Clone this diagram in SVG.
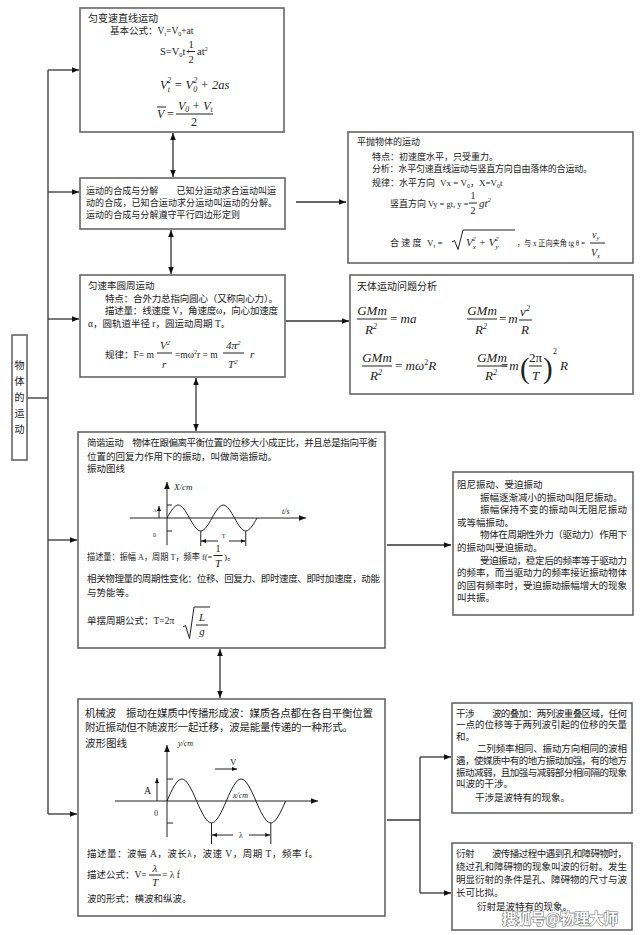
<svg xmlns="http://www.w3.org/2000/svg" width="640" height="935" viewBox="0 0 640 935">
<defs>
<marker id="ah" viewBox="0 0 10 8" refX="10" refY="4" markerWidth="7" markerHeight="5.6" orient="auto-start-reverse" markerUnits="userSpaceOnUse"><path d="M0,0 L10,4 L0,8 z" fill="#111"/></marker>
<marker id="sa" viewBox="0 0 10 8" refX="10" refY="4" markerWidth="5" markerHeight="4" orient="auto-start-reverse" markerUnits="userSpaceOnUse"><path d="M0,0 L10,4 L0,8 z" fill="#111"/></marker>
<style>
.d{font-family:"Liberation Serif","Noto Sans CJK SC",serif;font-size:9.5px;fill:#222}
.bx{fill:#fff;stroke:#666;stroke-width:1.6}
.ln{stroke:#333;stroke-width:1.3;fill:none}
.g{stroke:#222;stroke-width:1;fill:none}
.m{font-style:italic}
.lg{font-size:10.5px}
.f{font-size:13px;font-style:italic}
.fn{font-size:13px}
</style>
</defs>
<rect width="640" height="935" fill="#fff"/>
<g class="d">

<g id="connectors">
<line class="ln" x1="27" y1="398" x2="48" y2="398"/>
<line class="ln" x1="48" y1="70" x2="48" y2="814"/>
<line class="ln" x1="48" y1="70" x2="79" y2="70" marker-end="url(#ah)"/>
<line class="ln" x1="48" y1="192" x2="79" y2="192" marker-end="url(#ah)"/>
<line class="ln" x1="48" y1="319" x2="79" y2="319" marker-end="url(#ah)"/>
<line class="ln" x1="48" y1="540" x2="77" y2="540" marker-end="url(#ah)"/>
<line class="ln" x1="48" y1="814" x2="77" y2="814" marker-end="url(#ah)"/>
<line class="ln" x1="173" y1="133" x2="173" y2="177" marker-start="url(#ah)" marker-end="url(#ah)"/>
<line class="ln" x1="171" y1="230" x2="171" y2="274" marker-start="url(#ah)" marker-end="url(#ah)"/>
<line class="ln" x1="196" y1="378" x2="196" y2="431" marker-start="url(#ah)" marker-end="url(#ah)"/>
<line class="ln" x1="220" y1="649" x2="220" y2="698" marker-start="url(#ah)" marker-end="url(#ah)"/>
<line class="ln" x1="296" y1="202" x2="346" y2="202" marker-end="url(#ah)"/>
<line class="ln" x1="286" y1="321" x2="349" y2="321" marker-end="url(#ah)"/>
<line class="ln" x1="387" y1="545" x2="451" y2="545" marker-end="url(#ah)"/>
<line class="ln" x1="387" y1="820" x2="420" y2="820"/>
<line class="ln" x1="420" y1="757" x2="420" y2="893"/>
<line class="ln" x1="420" y1="757" x2="451" y2="757" marker-end="url(#ah)"/>
<line class="ln" x1="420" y1="893" x2="451" y2="893" marker-end="url(#ah)"/>
</g>

<g id="root">
<rect class="bx" x="12" y="335" width="15" height="125"/>
<text x="19.5" y="369" text-anchor="middle" font-size="10">物</text>
<text x="19.5" y="385" text-anchor="middle" font-size="10">体</text>
<text x="19.5" y="401" text-anchor="middle" font-size="10">的</text>
<text x="19.5" y="417" text-anchor="middle" font-size="10">运</text>
<text x="19.5" y="433" text-anchor="middle" font-size="10">动</text>
</g>

<g id="uniform-accel">
<rect class="bx" x="80" y="8" width="204" height="124"/>
<text x="88" y="22" font-size="10">匀变速直线运动</text>
<text x="110" y="34">基本公式：V<tspan font-size="6" dy="2">t</tspan><tspan dy="-2">=V</tspan><tspan font-size="6" dy="2">0</tspan><tspan dy="-2">+at</tspan></text>
<text x="160" y="55" font-size="10.5">S=V<tspan font-size="6.5" dy="2">0</tspan><tspan dy="-2">t+</tspan></text>
<text x="191" y="48" font-size="10.5" text-anchor="middle">1</text>
<line class="g" x1="187" y1="51.5" x2="195" y2="51.5"/>
<text x="191" y="63" font-size="10.5" text-anchor="middle">2</text>
<text x="197" y="55" font-size="10.5">at<tspan font-size="6.5" dy="-4">2</tspan></text>
<text x="160" y="89" class="m" font-size="12.5">V<tspan font-size="8" dy="3">t</tspan><tspan font-size="8" dx="-3" dy="-9">2</tspan><tspan dy="6"> = V</tspan><tspan font-size="8" dy="3">0</tspan><tspan font-size="8" dx="-4" dy="-9">2</tspan><tspan dy="6"> + 2as</tspan></text>
<text x="157" y="118" class="m" font-size="12">V</text>
<line class="g" x1="157" y1="107" x2="166" y2="107"/>
<text x="167" y="118" font-size="12"> =</text>
<text x="178" y="110" class="m" font-size="12">V<tspan font-size="7.5" dy="2">0</tspan><tspan dy="-2"> + V</tspan><tspan font-size="7.5" dy="2">t</tspan></text>
<line class="g" x1="176" y1="114" x2="213" y2="114"/>
<text x="194" y="126" font-size="12" text-anchor="middle">2</text>
</g>

<g id="composition">
<rect class="bx" x="80" y="178" width="205" height="51"/>
<text x="86" y="194" font-size="9" textLength="190" lengthAdjust="spacing">运动的合成与分解　　已知分运动求合运动叫运</text>
<text x="86" y="206" font-size="9" textLength="191" lengthAdjust="spacing">动的合成，已知合运动求分运动叫运动的分解。</text>
<text x="86" y="218" font-size="9" textLength="154" lengthAdjust="spacing">运动的合成与分解遵守平行四边形定则</text>
</g>

<g id="circular">
<rect class="bx" x="80" y="275" width="205" height="102"/>
<text x="88" y="289">匀速率圆周运动</text>
<text x="105" y="302" textLength="173" lengthAdjust="spacing">特点：合外力总指向圆心（又称向心力）。</text>
<text x="105" y="314" textLength="173" lengthAdjust="spacing">描述量：线速度 V，角速度ω，向心加速度</text>
<text x="88" y="327">α，圆轨道半径 r，圆运动周期 T。</text>
<text x="105" y="358">规律：F= m</text>
<text x="160" y="349" class="m" font-size="11">V<tspan font-size="7" dy="-4">2</tspan></text>
<line class="g" x1="157" y1="353" x2="172" y2="353"/>
<text x="162" y="368" class="m" font-size="11">r</text>
<text x="175" y="358">=mω<tspan font-size="6" dy="-4">2</tspan><tspan dy="4">r = m</tspan></text>
<text x="226" y="349" class="m" font-size="11">4π<tspan font-size="7" dy="-4">2</tspan></text>
<line class="g" x1="223" y1="353" x2="244" y2="353"/>
<text x="228" y="368" class="m" font-size="11">T<tspan font-size="7" dy="-4">2</tspan></text>
<text x="250" y="358" class="m" font-size="11">r</text>
</g>

<g id="projectile">
<rect class="bx" x="348" y="132" width="285" height="131"/>
<text x="357" y="145" font-size="9">平抛物体的运动</text>
<text x="372" y="160" font-size="9">特点：初速度水平，只受重力。</text>
<text x="372" y="172" font-size="9" textLength="220" lengthAdjust="spacing">分析：水平匀速直线运动与竖直方向自由落体的合运动。</text>
<text x="372" y="186" font-size="9">规律：水平方向<tspan x="440">Vx = V</tspan><tspan font-size="6" dy="2">0</tspan><tspan dy="-2">，X=V</tspan><tspan font-size="6" dy="2">0</tspan><tspan dy="-2">t</tspan></text>
<text x="390" y="207" font-size="9">竖直方向</text>
<text x="428" y="207" font-size="8.5">Vy = gt, y =</text>
<text x="473" y="199" font-size="10" text-anchor="middle">1</text>
<line class="g" x1="469" y1="203" x2="477" y2="203"/>
<text x="473" y="214" font-size="10" text-anchor="middle">2</text>
<text x="479" y="207" class="m" font-size="11">gt<tspan font-size="7" dy="-5">2</tspan></text>
<text x="390" y="246" font-size="9">合 速 度<tspan x="427">V</tspan><tspan font-size="6" dy="2">t</tspan><tspan dy="-2"> =</tspan></text>
<path class="g" d="M452,242 l2.5,-1.5 l3.5,9 l5,-19.5 h52"/>
<text x="466" y="246" class="m" font-size="11">V<tspan font-size="7" dy="3">x</tspan><tspan font-size="7" dx="-3.5" dy="-8">2</tspan><tspan dy="5"> + V</tspan><tspan font-size="7" dy="3">y</tspan><tspan font-size="7" dx="-3.5" dy="-8">2</tspan></text>
<text x="517" y="246" font-size="8.5" textLength="68" lengthAdjust="spacingAndGlyphs">，与 x 正向夹角 tg θ =</text>
<text x="592" y="238" class="m" font-size="10">v<tspan font-size="6.5" dy="2">y</tspan></text>
<line class="g" x1="590" y1="243" x2="605" y2="243"/>
<text x="591" y="256" class="m" font-size="10">V<tspan font-size="6.5" dy="2">x</tspan></text>
</g>

<g id="celestial">
<rect class="bx" x="350" y="275" width="283" height="119"/>
<text x="357" y="290" font-size="10">天体运动问题分析</text>
<text x="372" y="315" class="f" text-anchor="middle">GMm</text>
<line class="g" x1="357" y1="319" x2="387" y2="319"/>
<text x="371" y="334" class="f" text-anchor="middle">R<tspan font-size="8" dy="-5">2</tspan></text>
<text x="390" y="323" class="fn">= <tspan font-style="italic">ma</tspan></text>
<text x="482" y="315" class="f" text-anchor="middle">GMm</text>
<line class="g" x1="467" y1="319" x2="497" y2="319"/>
<text x="481" y="334" class="f" text-anchor="middle">R<tspan font-size="8" dy="-5">2</tspan></text>
<text x="499" y="323" class="fn">=<tspan dx="2" font-style="italic">m</tspan></text>
<text x="525" y="316" class="f" text-anchor="middle">v<tspan font-size="8" dy="-5">2</tspan></text>
<line class="g" x1="519" y1="320" x2="532" y2="320"/>
<text x="525" y="334" class="f" text-anchor="middle">R</text>
<text x="377" y="362" class="f" text-anchor="middle">GMm</text>
<line class="g" x1="362" y1="366" x2="392" y2="366"/>
<text x="376" y="380" class="f" text-anchor="middle">R<tspan font-size="8" dy="-5">2</tspan></text>
<text x="395" y="370" class="fn">= <tspan font-style="italic">mω</tspan><tspan font-size="8" dy="-5">2</tspan><tspan dy="5" font-style="italic">R</tspan></text>
<text x="492" y="362" class="f" text-anchor="middle">GMm</text>
<line class="g" x1="477" y1="366" x2="507" y2="366"/>
<text x="491" y="380" class="f" text-anchor="middle">R<tspan font-size="8" dy="-5">2</tspan></text>
<text x="501" y="370" class="fn">=<tspan dx="1" font-style="italic">m</tspan></text>
<text x="520" y="378" font-size="29">(</text>
<text x="535.5" y="362" class="fn" text-anchor="middle">2π</text>
<line class="g" x1="529" y1="366" x2="542" y2="366"/>
<text x="535.5" y="380" class="f" text-anchor="middle">T</text>
<text x="543" y="378" font-size="29">)</text>
<text x="553" y="354" font-size="8">2</text>
<text x="560" y="370" class="f">R</text>
</g>

<g id="shm">
<rect class="bx" x="78" y="432" width="307" height="216"/>
<text x="87" y="446" textLength="290" lengthAdjust="spacing">简谐运动　物体在跟偏离平衡位置的位移大小成正比，并且总是指向平衡</text>
<text x="87" y="460">位置的回复力作用下的振动，叫做简谐振动。</text>
<text x="87" y="472">振动图线</text>
<line class="g" x1="167" y1="545" x2="167" y2="482" marker-end="url(#ah)"/>
<line class="g" x1="130" y1="518" x2="306" y2="518" marker-end="url(#ah)"/>
<text x="174" y="490" class="m" font-size="9">X/cm</text>
<text x="282" y="514" class="m" font-size="8">t/s</text>
<line class="g" x1="167" y1="505" x2="172" y2="505"/>
<line class="g" x1="167" y1="531" x2="172" y2="531"/>
<line class="g" x1="159" y1="518" x2="159" y2="506" marker-end="url(#sa)" stroke-width="0.8"/>
<text x="153" y="512" font-size="5">A</text>
<text x="153" y="537" font-size="6">0</text>
<path class="g" d="M167,518 c3.666,-6.653 7.451,-13 11.25,-13 c3.799,0 7.584,6.347 11.25,13 c3.666,6.653 7.451,13 11.25,13 c3.799,0 7.584,-6.347 11.25,-13 c3.666,-6.653 7.451,-13 11.25,-13 c3.799,0 7.584,6.347 11.25,13 c3.666,6.653 7.451,13 11.25,13 c3.799,0 7.584,-6.347 11.25,-13"/>
<line class="g" x1="200.75" y1="531" x2="200.75" y2="546"/>
<line class="g" x1="245.75" y1="531" x2="245.75" y2="546"/>
<line class="g" x1="218" y1="541" x2="201" y2="541" marker-end="url(#sa)" stroke-width="0.8"/>
<line class="g" x1="229" y1="541" x2="245.5" y2="541" marker-end="url(#sa)" stroke-width="0.8"/>
<text x="223.5" y="538" font-size="6" text-anchor="middle">T</text>
<text x="87" y="560" font-size="9" textLength="125" lengthAdjust="spacingAndGlyphs">描述量：振幅 A，周期 T，频率 f(=</text>
<text x="218" y="552" font-size="10" text-anchor="middle">1</text>
<line class="g" x1="213.5" y1="555.5" x2="222.5" y2="555.5"/>
<text x="218" y="567" font-size="11" class="m" text-anchor="middle">T</text>
<text x="224" y="560" font-size="9">)。</text>
<text x="87" y="582" textLength="293" lengthAdjust="spacing">相关物理量的周期性变化：位移、回复力、即时速度、即时加速度，动能</text>
<text x="87" y="596">与势能等。</text>
<text x="87" y="624">单摆周期公式：T=2π</text>
<path class="g" d="M183,627 l2.5,-1.5 l4,13 l4.5,-31.5 h16"/>
<text x="202" y="621" class="m" font-size="11" text-anchor="middle">L</text>
<line class="g" x1="196" y1="625" x2="208" y2="625"/>
<text x="202" y="635" class="m" font-size="11" text-anchor="middle">g</text>
</g>

<g id="damped">
<rect class="bx" x="453" y="472" width="180" height="143"/>
<text x="457" y="488">阻尼振动、受迫振动</text>
<text x="480" y="500.6">振幅逐渐减小的振动叫阻尼振动。</text>
<text x="480" y="513.2" textLength="147" lengthAdjust="spacing">振幅保持不变的振动叫无阻尼振动</text>
<text x="457" y="525.8">或等幅振动。</text>
<text x="480" y="538.4" textLength="147" lengthAdjust="spacing">物体在周期性外力（驱动力）作用下</text>
<text x="457" y="551">的振动叫受迫振动。</text>
<text x="480" y="563.6" textLength="147" lengthAdjust="spacing">受迫振动，稳定后的频率等于驱动力</text>
<text x="457" y="576.2" textLength="170" lengthAdjust="spacing">的频率，而当驱动力的频率接近振动物体</text>
<text x="457" y="588.8" textLength="170" lengthAdjust="spacing">的固有频率时，受迫振动振幅增大的现象</text>
<text x="457" y="601.4">叫共振。</text>
</g>

<g id="wave">
<rect class="bx" x="78" y="699" width="307" height="217"/>
<text x="85" y="717" class="lg" textLength="288" lengthAdjust="spacing">机械波　振动在媒质中传播形成波：媒质各点都在各自平衡位置</text>
<text x="85" y="731" class="lg" textLength="268" lengthAdjust="spacing">附近振动但不随波形一起迁移，波是能量传递的一种形式。</text>
<text x="85" y="747" class="lg">波形图线</text>
<line class="g" x1="167" y1="837" x2="167" y2="745" marker-end="url(#ah)"/>
<line class="g" x1="115" y1="801" x2="318" y2="801" marker-end="url(#ah)"/>
<text x="178" y="746" class="m" font-size="8">y/cm</text>
<text x="233" y="798" class="m" font-size="8">x/cm</text>
<line class="g" x1="167" y1="779" x2="173" y2="779"/>
<line class="g" x1="167" y1="823" x2="173" y2="823"/>
<text x="230" y="765" font-size="9">V</text>
<line class="g" x1="215" y1="769" x2="237" y2="769" marker-end="url(#sa)"/>
<line class="g" x1="157" y1="801" x2="157" y2="778" marker-end="url(#sa)" stroke-width="0.8"/>
<text x="144" y="794" font-size="10">A</text>
<text x="154" y="816" font-size="8">0</text>
<path class="g" d="M167,801 c4.830,-11.26 9.818,-22 14.825,-22 c5.007,0 9.995,10.74 14.825,22 c4.830,11.26 9.818,22 14.825,22 c5.007,0 9.995,-10.74 14.825,-22 c4.830,-11.26 9.818,-22 14.825,-22 c5.007,0 9.995,10.74 14.825,22 c4.830,11.26 9.818,22 14.825,22 c5.007,0 9.995,-10.74 14.825,-22"/>
<line class="g" x1="211.5" y1="823" x2="211.5" y2="844"/>
<line class="g" x1="270.8" y1="823" x2="270.8" y2="844"/>
<line class="g" x1="233" y1="835" x2="212" y2="835" marker-end="url(#sa)"/>
<line class="g" x1="249" y1="835" x2="270.3" y2="835" marker-end="url(#sa)"/>
<text x="241" y="838" font-size="8" text-anchor="middle">λ</text>
<text x="87" y="857" textLength="231" lengthAdjust="spacing">描述量：波幅 A，波长λ，波速 V，周期 T，频率 f。</text>
<text x="87" y="878">描述公式：V=</text>
<text x="155" y="872" class="m" font-size="11" text-anchor="middle">λ</text>
<line class="g" x1="149" y1="875" x2="161" y2="875"/>
<text x="155" y="886" class="m" font-size="11" text-anchor="middle">T</text>
<text x="162" y="878">= λ f</text>
<text x="87" y="902">波的形式：横波和纵波。</text>
</g>

<g id="interference">
<rect class="bx" x="452" y="703" width="180" height="110"/>
<text x="456" y="716.5" textLength="171" lengthAdjust="spacing">干涉　　波的叠加：两列波重叠区域，任何</text>
<text x="456" y="728.3" textLength="171" lengthAdjust="spacing">一点的位移等于两列波引起的位移的矢量</text>
<text x="456" y="740.1">和。</text>
<text x="477" y="751.9" textLength="150" lengthAdjust="spacing">二列频率相同、振动方向相同的波相</text>
<text x="456" y="763.7" textLength="171" lengthAdjust="spacing">遇，使媒质中有的地方振动加强，有的地方</text>
<text x="456" y="775.5" textLength="171" lengthAdjust="spacing">振动减弱，且加强与减弱部分相间隔的现象</text>
<text x="456" y="787.3">叫波的干涉。</text>
<text x="475" y="800.5">干涉是波特有的现象。</text>
</g>

<g id="diffraction">
<rect class="bx" x="452" y="843" width="180" height="87"/>
<text x="456" y="857" textLength="171" lengthAdjust="spacing">衍射　　波传播过程中遇到孔和障碍物时，</text>
<text x="456" y="870" textLength="171" lengthAdjust="spacing">绕过孔和障碍物的现象叫波的衍射。发生</text>
<text x="456" y="883" textLength="171" lengthAdjust="spacing">明显衍射的条件是孔、障碍物的尺寸与波</text>
<text x="456" y="896">长可比拟。</text>
<text x="477" y="910">衍射是波特有的现象。</text>
</g>

<g id="watermark">
<text x="502" y="924" font-size="14.5" font-weight="bold" font-family="Noto Sans CJK SC, sans-serif" style="fill:#fff;stroke:#777;stroke-width:1.2;paint-order:stroke">搜狐号@物理大师</text>
</g>
</g>
</svg>
